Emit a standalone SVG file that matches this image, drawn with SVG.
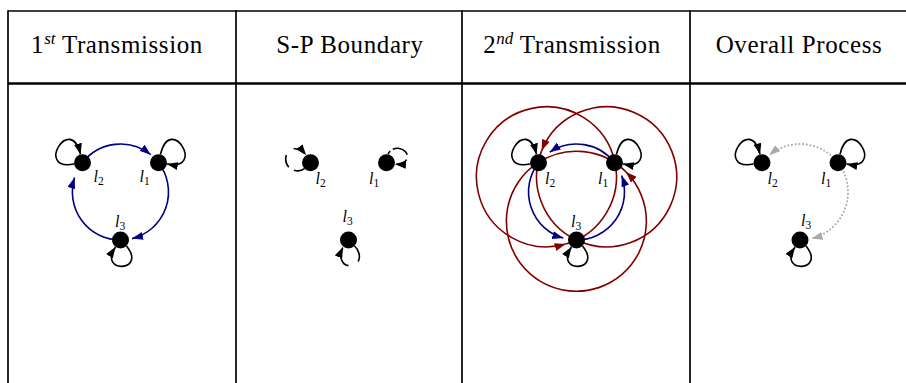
<svg xmlns="http://www.w3.org/2000/svg" xmlns:xlink="http://www.w3.org/1999/xlink" width="906" height="383" viewBox="0 0 906 383">
<style>
.hdr{font-family:"Liberation Serif","Times New Roman",serif;font-size:25px;letter-spacing:0.6px;fill:#000}
.sup{font-size:17px;font-style:italic;letter-spacing:0}
.lab{font-family:"Liberation Serif","Times New Roman",serif;font-style:italic;font-size:16px;fill:#000}
.sub{font-size:11.5px;font-style:normal}
.grid{stroke:#000;fill:none}
.node{fill:#000}
.loop{fill:none;stroke:#000;stroke-width:1.6}
.dloop{fill:none;stroke:#000;stroke-width:1.6}
.blue{fill:none;stroke:#000080;stroke-width:1.6}
.red{fill:none;stroke:#800000;stroke-width:1.6}
.gray{fill:none;stroke:#aaaaaa;stroke-width:2;stroke-dasharray:0.1 3.6;stroke-linecap:round}
</style>
<defs>
<marker id="ak" viewBox="0 0 11 8" refX="11" refY="4" markerWidth="11" markerHeight="8" markerUnits="userSpaceOnUse" orient="auto"><path d="M0,0 L11,4 L0,8 Z" fill="#000"/></marker>
<marker id="ab" viewBox="0 0 11 8" refX="11" refY="4" markerWidth="11" markerHeight="8" markerUnits="userSpaceOnUse" orient="auto"><path d="M0,0 L11,4 L0,8 Z" fill="#000080"/></marker>
<marker id="ar" viewBox="0 0 11 8" refX="11" refY="4" markerWidth="11" markerHeight="8" markerUnits="userSpaceOnUse" orient="auto"><path d="M0,0 L11,4 L0,8 Z" fill="#800000"/></marker>
<marker id="ag" viewBox="0 0 11 8" refX="11" refY="4" markerWidth="11" markerHeight="8" markerUnits="userSpaceOnUse" orient="auto"><path d="M0,0 L11,4 L0,8 Z" fill="#aaaaaa"/></marker>
<path id="loopL" d="M -8.4 1.3 C -48 9, -12 -50, -2 -8.3" marker-end="url(#ak)"/>
<path id="loopR" d="M 2 -8.3 C 12 -50, 48 9, 8.4 1.3" marker-end="url(#ak)"/>
<path id="loopB" d="M 6 6 C 27 32, -23 34, -5 7" marker-end="url(#ak)"/>
<path id="dloopL" d="M -6 6 C -12 10.5, -24.5 8, -24.8 -3.5 C -25 -13, -14 -19.5, -4.3 -7.4" stroke-dasharray="11 6 13 10 12" marker-end="url(#ak)"/>
<path id="dloopR" d="M 1.5 -8.4 C 4 -15, 14 -16.5, 19 -11 C 23 -6.5, 21 2, 8.4 1.5" stroke-dasharray="4 3 17 5 12" marker-end="url(#ak)"/>
<path id="dloopB" d="M 6 6 C 12 11, 14 24, 3 25.5 C -7 27, -10 17, -5.5 7" stroke-dasharray="17 11 22" marker-end="url(#ak)"/>
</defs>

<g id="table">
<line class="grid" x1="8" y1="11" x2="906" y2="11" stroke-width="1.4"/>
<line class="grid" x1="8" y1="83.5" x2="906" y2="83.5" stroke-width="2.4"/>
<line class="grid" x1="8" y1="10.3" x2="8" y2="383" stroke-width="1.7"/>
<line class="grid" x1="236" y1="10.3" x2="236" y2="383" stroke-width="1.7"/>
<line class="grid" x1="462" y1="10.3" x2="462" y2="383" stroke-width="1.7"/>
<line class="grid" x1="690" y1="10.3" x2="690" y2="383" stroke-width="1.7"/>
</g>

<g id="headers">
<text class="hdr" x="117" y="53" text-anchor="middle">1<tspan class="sup" dy="-9">st</tspan><tspan dy="9"> Transmission</tspan></text>
<text class="hdr" x="350" y="53" text-anchor="middle">S-P Boundary</text>
<text class="hdr" x="572" y="53" text-anchor="middle">2<tspan class="sup" dy="-9">nd</tspan><tspan dy="9"> Transmission</tspan></text>
<text class="hdr" x="799" y="53" text-anchor="middle">Overall Process</text>
</g>

<g id="connectors">
<!-- panel 1 -->
<path class="blue" d="M 82.5 162.7 A 48 48 0 0 1 150.7 154.7" marker-end="url(#ab)"/>
<path class="blue" d="M 158.5 162.7 A 48 48 0 0 1 132.1 238.6" marker-end="url(#ab)"/>
<path class="blue" d="M 120.5 240 A 48 48 0 0 1 74.6 177.6" marker-end="url(#ab)"/>
<use href="#loopL" class="loop" x="82.5" y="162.7"/>
<use href="#loopR" class="loop" x="158.5" y="162.7"/>
<use href="#loopB" class="loop" x="120.5" y="240"/>
<!-- panel 2 -->
<use href="#dloopL" class="dloop" x="310.5" y="162.7"/>
<use href="#dloopR" class="dloop" x="386.5" y="162.7"/>
<use href="#dloopB" class="dloop" x="348.5" y="240"/>
<!-- panel 3 -->
<path class="red" d="M 576.5 240 A 70 70 0 1 0 541.7 150.6" marker-end="url(#ar)"/>
<path class="red" d="M 541.7 150.6 A 70 70 0 0 0 576.5 240"/>
<path class="red" d="M 615 162.7 A 70 70 0 1 0 565.7 244.1" marker-end="url(#ar)"/>
<path class="red" d="M 565.7 244.1 A 70 70 0 0 0 615 162.7"/>
<path class="red" d="M 538 162.7 A 70 70 0 1 0 626 171.9" marker-end="url(#ar)"/>
<path class="red" d="M 626 171.9 A 70 70 0 0 0 538 162.7"/>
<path class="blue" d="M 614.5 162.7 A 48 48 0 0 0 549.7 152.2" marker-end="url(#ab)"/>
<path class="blue" d="M 538.5 162.7 A 48 48 0 0 0 563.3 238.1" marker-end="url(#ab)"/>
<path class="blue" d="M 576.5 240 A 48 48 0 0 0 621.6 175.6" marker-end="url(#ab)"/>
<use href="#loopL" class="loop" x="538.5" y="162.7"/>
<use href="#loopR" class="loop" x="614.5" y="162.7"/>
<use href="#loopB" class="loop" x="576.5" y="240"/>
<!-- panel 4 -->
<path class="gray" d="M 838 162.7 A 48 48 0 0 0 769.2 155.2" marker-end="url(#ag)"/>
<path class="gray" d="M 838 162.7 A 48 48 0 0 1 811.6 238.6" marker-end="url(#ag)"/>
<use href="#loopL" class="loop" x="762" y="162.7"/>
<use href="#loopR" class="loop" x="838" y="162.7"/>
<use href="#loopB" class="loop" x="800" y="240"/>
</g>

<g id="p1-l2"><circle class="node" cx="82.5" cy="162.7" r="8.5"/><text class="lab" x="93.5" y="182">l<tspan class="sub" dy="3">2</tspan></text></g>
<g id="p1-l1"><circle class="node" cx="158.5" cy="162.7" r="8.5"/><text class="lab" x="139.5" y="182">l<tspan class="sub" dy="3">1</tspan></text></g>
<g id="p1-l3"><circle class="node" cx="120.5" cy="240" r="8.5"/><text class="lab" x="115" y="227">l<tspan class="sub" dy="3">3</tspan></text></g>

<g id="p2-l2"><circle class="node" cx="310.5" cy="162.7" r="8.5"/><text class="lab" x="315.5" y="184">l<tspan class="sub" dy="3">2</tspan></text></g>
<g id="p2-l1"><circle class="node" cx="386.5" cy="162.7" r="8.5"/><text class="lab" x="369" y="184">l<tspan class="sub" dy="3">1</tspan></text></g>
<g id="p2-l3"><circle class="node" cx="348.5" cy="240" r="8.5"/><text class="lab" x="342.5" y="222">l<tspan class="sub" dy="3">3</tspan></text></g>

<g id="p3-l2"><circle class="node" cx="538.5" cy="162.7" r="8.5"/><text class="lab" x="545" y="184">l<tspan class="sub" dy="3">2</tspan></text></g>
<g id="p3-l1"><circle class="node" cx="614.5" cy="162.7" r="8.5"/><text class="lab" x="598" y="184">l<tspan class="sub" dy="3">1</tspan></text></g>
<g id="p3-l3"><circle class="node" cx="576.5" cy="240" r="8.5"/><text class="lab" x="571" y="227">l<tspan class="sub" dy="3">3</tspan></text></g>

<g id="p4-l2"><circle class="node" cx="762" cy="162.7" r="8.5"/><text class="lab" x="767.5" y="184">l<tspan class="sub" dy="3">2</tspan></text></g>
<g id="p4-l1"><circle class="node" cx="838" cy="162.7" r="8.5"/><text class="lab" x="821" y="184">l<tspan class="sub" dy="3">1</tspan></text></g>
<g id="p4-l3"><circle class="node" cx="800" cy="240" r="8.5"/><text class="lab" x="801" y="226">l<tspan class="sub" dy="3">3</tspan></text></g>
</svg>
